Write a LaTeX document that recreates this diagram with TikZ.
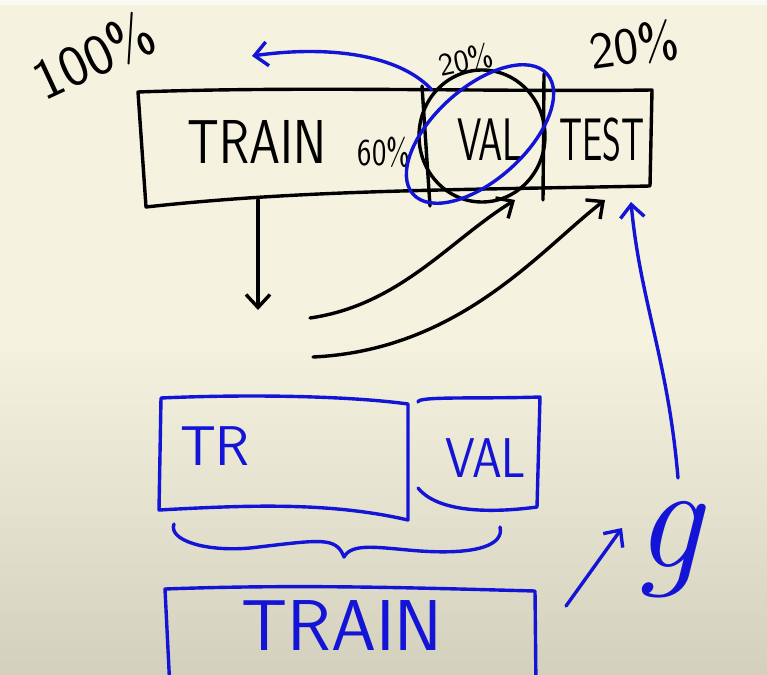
\documentclass[tikz,border=0pt]{standalone}
\usepackage{fontspec}
\usetikzlibrary{arrows.meta,calc}
\definecolor{paper}{RGB}{245,243,223}
\definecolor{paperlow}{RGB}{212,208,190}
\definecolor{pen}{RGB}{20,20,215}
\tikzset{
  ink/.style={line width=3.4pt,line cap=round,line join=round},
  blk/.style={ink,draw=black},
  blu/.style={ink,draw=pen},
  barb/.style={-{Straight Barb[length=13pt,width=24pt,line width=3.4pt]}},
  hand/.style={font=\sffamily\fontsize{#1}{#1}\selectfont,inner sep=0pt},
  hand/.default=60
}
\begin{document}
\begin{tikzpicture}[x=1pt,y=-1pt]
\useasboundingbox (0,0) rectangle (767,674);
% paper
\fill[top color=paper,bottom color=paperlow,middle color=paper] (0,0) rectangle (767,674);
\fill[paper] (0,0) rectangle (767,330);
\fill[white!60!paper] (0,0) rectangle (767,5);

% ---------- top split bar ----------
\coordinate (tl) at (138,92);
\coordinate (tr) at (652,90);
\coordinate (br) at (650,186);
\coordinate (bl) at (146,207);
\draw[blk] (tl) .. controls (300,86) and (500,92) .. (tr)
  -- (br) .. controls (450,190) and (300,190) .. (bl) -- cycle;
\draw[blk] (422,86) -- (430,206);
\draw[blk] (544,74) -- (543,200);

\node[hand=62,xscale=0.8] (train) at (257,142) {TRAIN};
\node[hand=38,xscale=0.8] (p60) at (384,152) {60\%};
\node[hand=60,xscale=0.65] (val) at (490,140) {VAL};
\node[hand=60,xscale=0.6] (test) at (602,140) {TEST};
\node[hand=58,rotate=25] (p100) at (94,56) {100\%};
\node[hand=52,rotate=8] (p20) at (634,45) {20\%};
\node[hand=32,rotate=12] (p20v) at (466,60) {20\%};

% loops around the validation slice
\draw[blk] ($(val)+(-8,-4)$) ellipse [x radius=63,y radius=66];
\draw[blu] ($(val)+(-10,-6)$) ellipse [x radius=90,y radius=46,rotate=42];

% blue arrow pulling VAL out to the left
\coordinate (pull) at (252,56);
\draw[blu,barb] (432,90) .. controls (400,55) and (330,45) .. (pull);

% black arrows
\coordinate (down) at (258,310);
\draw[blk,barb] (258,200) -- (down);
\coordinate (c1) at (310,318);
\coordinate (c2) at (313,357);
\draw[blk,barb] (c1) .. controls (400,305) and (450,240) .. (515,200);
\draw[blk,barb] (c2) .. controls (460,350) and (540,250) .. (605,200);

% ---------- lower blue split ----------
\coordinate (trA) at (161,398);
\coordinate (trB) at (408,404);
\coordinate (trC) at (408,520);
\coordinate (trD) at (159,510);
\draw[blu] (trA) .. controls (250,394) and (350,396) .. (trB) -- (trC)
  .. controls (330,502) and (250,505) .. (trD) -- cycle;
\node[hand=56,text=pen] (tr) at (215,446) {TR};

\coordinate (vA) at (418,402);
\coordinate (vB) at (540,397);
\draw[blu] (vA) .. controls (417,396) and (480,399) .. (vB)
  -- (537,507) .. controls (500,512) and (440,515) .. (418,488);
\node[hand=56,xscale=0.85,text=pen] (val2) at (486,458) {VAL};

% brace
\draw[blu] (174,524) .. controls (168,540) and (205,552) .. (250,548)
  .. controls (320,540) and (336,536) .. (344,557)
  .. controls (352,542) and (380,548) .. (420,551)
  .. controls (480,555) and (504,544) .. (500,527);

% merged train box
\coordinate (mA) at (165,589);
\coordinate (mB) at (535,591);
\draw[blu] (170,690) -- (mA) .. controls (300,584) and (420,588) .. (mB) -- (536,690);
\node[hand=72,text=pen] (train2) at (342,626) {TRAIN};

% model g and its arrows
\node[font=\fontsize{150}{150}\selectfont\itshape,text=pen,inner sep=0pt] (g) at (668,550) {g};
\draw[blu,barb] (566,606) -- (622,528);
\coordinate (gt) at (678,478);
\draw[blu,barb] (gt) .. controls (668,360) and (640,300) .. (631,202);
\end{tikzpicture}
\end{document}
